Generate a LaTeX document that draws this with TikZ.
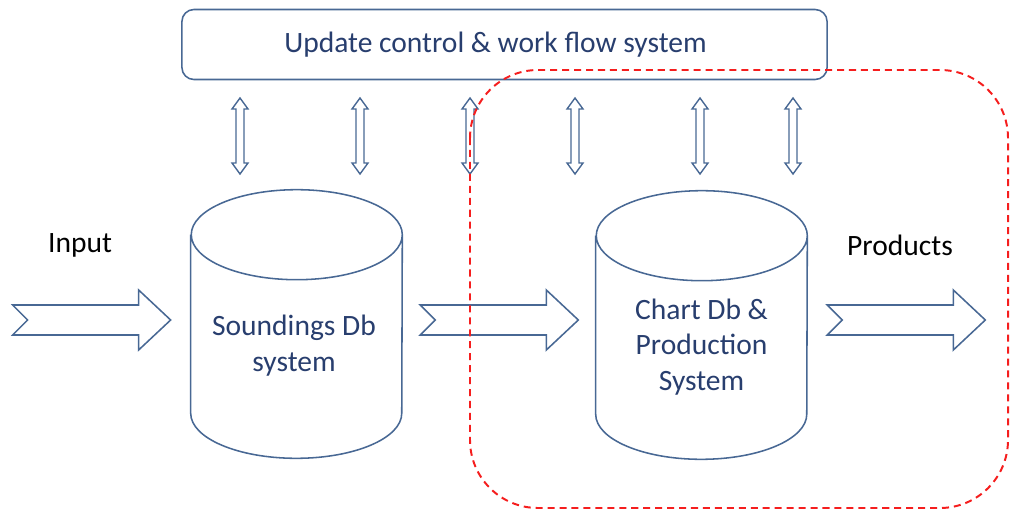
\documentclass[tikz,border=0pt]{standalone}
\usepackage{fontspec}
\setmainfont{Carlito}
\usetikzlibrary{calc}

\definecolor{boxblue}{RGB}{72,104,148}
\definecolor{txtblue}{RGB}{40,62,110}
\definecolor{dashred}{RGB}{245,30,30}

\begin{document}
\begin{tikzpicture}[x=0.025cm,y=-0.025cm,
    outline/.style={draw=boxblue, line width=1.1pt, line join=miter},
    lbl/.style={font=\fontsize{21}{25.5}\selectfont, align=center},
    ctrlbox/.style={outline, rounded corners=0.3cm, minimum width=16.125cm,
        minimum height=1.75cm, lbl, text=txtblue},
    dbbody/.style={minimum width=5.275cm, minimum height=6.7cm, inner sep=0pt},
    blockarrow/.pic={\draw[outline] (0,-15) -- (126,-15) -- (126,-30) -- (158,0)
        -- (126,30) -- (126,15) -- (0,15) -- (15,0) -- cycle;},
    dblarrow/.pic={\draw[outline, line width=1pt] (0,-38) -- (8,-27) -- (4,-27) -- (4,27)
        -- (8,27) -- (0,38) -- (-8,27) -- (-4,27) -- (-4,-27) -- (-8,-27) -- cycle;}]
    \useasboundingbox (0,0) rectangle (1010,511);

    % Control box on top
    \node[ctrlbox] (ctrl) at (504.5,44.5) {Update control \& work flow system\hspace*{0.45cm}};

    % Links between control box and the systems
    \foreach \x in {240,360,470,575,700,793} {
        \pic at (\x,136) {dblarrow};
    }

    % Database cylinders
    \node[dbbody] (sdb) at (296.5,324) {};
    \node[dbbody] (cdb) at (701.5,325) {};
    \foreach \db in {sdb,cdb} {
        \draw[outline] ([yshift=-1.125cm]\db.north west) -- ([yshift=1.125cm]\db.south west)
            arc[start angle=180, end angle=360, x radius=2.6375cm, y radius=1.125cm]
            -- ([yshift=-1.125cm]\db.north east)
            arc[start angle=0, end angle=180, x radius=2.6375cm, y radius=1.125cm]
            arc[start angle=180, end angle=360, x radius=2.6375cm, y radius=1.125cm];
    }
    \node[lbl, text=txtblue] (sdbtxt) at (294,346) {Soundings Db\\system};
    \node[lbl, text=txtblue] (cdbtxt) at (701.5,347) {Chart Db \&\\Production\\System};

    % Data flow
    \node[lbl] (input) at (80,245) {Input};
    \node[lbl] (products) at (900,245) {Products};
    \pic at ([xshift=-4.45cm, yshift=0.1cm]sdb.west) {blockarrow};
    \pic at ([xshift=0.45cm, yshift=0.1cm]sdb.east) {blockarrow};
    \pic at ([xshift=0.5cm, yshift=0.125cm]cdb.east) {blockarrow};

    % Production part
    \draw[dashred, line width=1.4pt, dash pattern=on 5pt off 3.5pt, rounded corners=1.7cm]
        (470,70) rectangle (1008,508);
\end{tikzpicture}
\end{document}
